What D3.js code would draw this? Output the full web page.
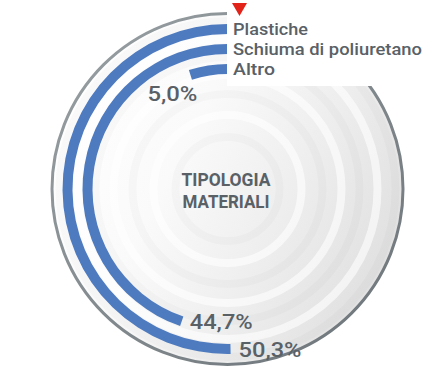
<!DOCTYPE html>
<html>
<head>
<meta charset="utf-8">
<script src="https://cdn.jsdelivr.net/npm/d3@7"></script>
<style>
  html, body { margin: 0; padding: 0; background: #ffffff; }
  svg { display: block; }
  text { font-family: Roboto, "Noto Sans", sans-serif; fill: #596167; }
</style>
</head>
<body>
<svg id="chart" width="430" height="368"></svg>
<script>
// Material types, outer ring first
const categories = ["Plastiche", "Schiuma di poliuretano", "Altro"];
const values = [50.3, 44.7, 5.0];
const valueLabels = ["50,3%", "44,7%", "5,0%"];
const titleLines = ["TIPOLOGIA", "MATERIALI"];

const W = 430, H = 368;
const cx = 227.5, cy = 189, R = 175.5;
const band = 10;

const svg = d3.select("#chart");
const defs = svg.append("defs");

// soft dish shading: bright on the left, grey towards the right
const lg = defs.append("linearGradient").attr("id", "dish")
  .attr("x1", "0%").attr("y1", "25%").attr("x2", "100%").attr("y2", "75%");
lg.append("stop").attr("offset", "0%").attr("stop-color", "#ffffff");
lg.append("stop").attr("offset", "35%").attr("stop-color", "#fafafa");
lg.append("stop").attr("offset", "65%").attr("stop-color", "#eeeeee");
lg.append("stop").attr("offset", "100%").attr("stop-color", "#dedede");

const rimGrad = defs.append("linearGradient").attr("id", "rim")
  .attr("x1", "0%").attr("y1", "0%").attr("x2", "100%").attr("y2", "100%");
rimGrad.append("stop").attr("offset", "0%").attr("stop-color", "#9aa1a5");
rimGrad.append("stop").attr("offset", "100%").attr("stop-color", "#6c7479");

const g = svg.append("g").attr("transform", `translate(${cx},${cy})`);

g.append("circle").attr("r", R).attr("fill", "url(#dish)");

// faint concentric grooves
const grooves = [52, 74, 95, 114, 132, 150, 168];
g.selectAll("circle.groove").data(grooves).enter().append("circle")
  .attr("class", "groove")
  .attr("r", d => d)
  .attr("fill", "none")
  .attr("stroke", (d, i) => i % 2 ? "rgba(255,255,255,0.6)" : "rgba(0,0,0,0.018)")
  .attr("stroke-width", 8);

g.append("circle").attr("r", R)
  .attr("fill", "none")
  .attr("stroke", "url(#rim)")
  .attr("stroke-width", 3);

// scales
const angle = d3.scaleLinear().domain([0, 100]).range([0, -2 * Math.PI]);
const radius = d3.scalePoint().domain(categories).range([160, 120]);

const arc = d3.arc()
  .innerRadius(d => radius(d.cat) - band / 2)
  .outerRadius(d => radius(d.cat) + band / 2)
  .startAngle(0)
  .endAngle(d => angle(d.value));

const rows = categories.map((c, i) => ({ cat: c, value: values[i], label: valueLabels[i] }));

g.selectAll("path.ring").data(rows).enter().append("path")
  .attr("class", "ring")
  .attr("d", arc)
  .attr("fill", "#4e7bbf");

// value labels next to each arc's end
rows.forEach(d => {
  const a = angle(d.value);
  const r = radius(d.cat);
  const ex = r * Math.sin(a), ey = -r * Math.cos(a);
  const t = g.append("text")
    .text(d.label)
    .attr("font-size", 21)
    .attr("font-weight", 500);
  if (Math.abs(a) > Math.PI / 2) {
    t.attr("x", ex + 8).attr("y", ey).attr("dy", "0.36em")
      .attr("text-anchor", "start")
      .attr("textLength", d.label.length === 5 ? 63 : 50)
      .attr("lengthAdjust", "spacingAndGlyphs");
  } else {
    t.attr("x", ex + 7).attr("y", ey + 26)
      .attr("text-anchor", "end")
      .attr("textLength", 50)
      .attr("lengthAdjust", "spacingAndGlyphs");
  }
});

// centre title
g.selectAll("text.title").data(titleLines).enter().append("text")
  .attr("class", "title")
  .attr("x", -1.5)
  .attr("y", (d, i) => -3.5 + i * 22)
  .attr("text-anchor", "middle")
  .attr("font-size", 19)
  .attr("font-weight", 700)
  .attr("textLength", (d, i) => i ? 87 : 89)
  .attr("lengthAdjust", "spacingAndGlyphs")
  .text(d => d);

// legend panel
svg.append("rect")
  .attr("x", cx - 0.5).attr("y", 0)
  .attr("width", W - cx + 0.5).attr("height", 86)
  .attr("fill", "#ffffff");

svg.append("path")
  .attr("d", d3.line()([[232, 3], [247, 3], [239.5, 16]]) + "Z")
  .attr("fill", "#e2231a");

const legendWidths = [75, 189, 42];
svg.selectAll("text.legend").data(categories).enter().append("text")
  .attr("class", "legend")
  .attr("x", 233)
  .attr("y", d => cy - radius(d) + 6)
  .attr("font-size", 16.5)
  .attr("font-weight", 500)
  .attr("textLength", (d, i) => legendWidths[i])
  .attr("lengthAdjust", "spacingAndGlyphs")
  .text(d => d);
</script>
</body>
</html>
